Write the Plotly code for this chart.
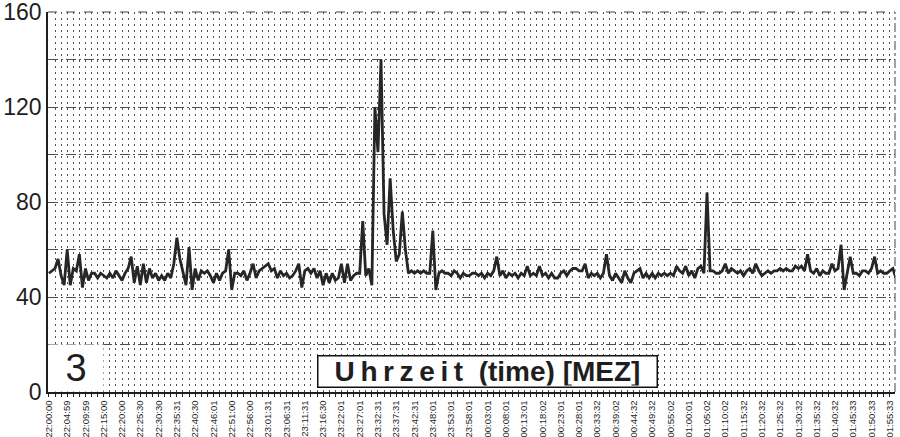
import plotly.graph_objects as go

# Heart-rate-like readings, one sample per category
values = [
    50, 51, 52, 56, 49, 45, 60, 45, 52, 51,
    58, 44, 52, 47, 50, 50, 48, 50, 49, 48,
    50, 48, 51, 49, 47, 50, 52, 57, 46, 53,
    45, 54, 46, 52, 48, 50, 47, 49, 47, 50,
    48, 54, 65, 56, 50, 45, 61, 43, 52, 47,
    51, 50, 51, 49, 46, 50, 47, 50, 51, 60,
    43, 50, 50, 49, 51, 47, 50, 54, 48, 51,
    52, 53, 54, 51, 52, 48, 51, 49, 50, 48,
    49, 51, 54, 44, 51, 52, 50, 52, 48, 51,
    45, 50, 46, 50, 47, 48, 54, 46, 54, 47,
    49, 50, 50, 72, 49, 52, 45, 120, 101, 140,
    75, 62, 90, 68, 55, 58, 76, 60, 50, 51,
    50, 51, 50, 51, 50, 50, 68, 43, 50, 51,
    50, 50, 49, 51, 50, 48, 50, 49, 49, 50,
    50, 49, 50, 48, 50, 49, 51, 57, 49, 51,
    48, 50, 49, 50, 48, 50, 49, 53, 49, 50,
    49, 53, 49, 50, 48, 50, 48, 48, 50, 51,
    49, 51, 52, 52, 51, 51, 54, 48, 50, 49,
    50, 48, 50, 58, 49, 47, 50, 48, 46, 51,
    48, 46, 50, 51, 52, 48, 50, 48, 50, 48,
    50, 49, 50, 49, 50, 49, 53, 51, 50, 53,
    49, 51, 48, 52, 53, 50, 84, 51, 51, 50,
    50, 51, 54, 50, 52, 51, 50, 51, 49, 51,
    52, 50, 54, 51, 49, 50, 51, 50, 51, 51,
    52, 51, 52, 51, 51, 53, 52, 53, 51, 58,
    51, 50, 52, 49, 51, 50, 50, 54, 51, 52,
    62, 43, 51, 57, 50, 50, 49, 51, 51, 50,
    52, 57, 50, 51, 50, 50, 51, 52, 48,
]

tick_labels = [
    "22:00:00", "22:04:59", "22:09:59", "22:15:00", "22:20:00", "22:25:30",
    "22:30:30", "22:35:31", "22:40:30", "22:46:01", "22:51:00", "22:56:00",
    "23:01:31", "23:06:31", "23:11:31", "23:16:30", "23:22:01", "23:27:01",
    "23:32:31", "23:37:31", "23:42:31", "23:48:01", "23:53:01", "23:58:01",
    "00:03:01", "00:08:01", "00:13:01", "00:18:02", "00:23:01", "00:28:01",
    "00:33:32", "00:39:02", "00:44:32", "00:49:32", "00:55:02", "01:00:01",
    "01:05:02", "01:10:02", "01:15:32", "01:20:32", "01:25:32", "01:30:32",
    "01:35:32", "01:40:32", "01:45:33", "01:50:33", "01:55:33",
]
label_step = 6          # samples between two time labels
y_ticks = [0, 40, 80, 120, 160]

x_idx = list(range(len(values)))
tick_pos = [i * label_step for i in range(len(tick_labels))]

FONT = "Arial, Liberation Sans, sans-serif"
INK = "#1e1e1e"
GRID = "#4e4e4e"
TS = "\u2009"  # thin space for the letter-spaced word

title_text = "<b>" + TS.join("Uhrzeit") + "\u00a0 (time) [MEZ]</b>"

fig = go.Figure()
fig.add_trace(go.Scatter(
    x=x_idx, y=values, mode="lines",
    line=dict(color="#262626", width=2.8),
    hoverinfo="skip", showlegend=False,
))

fig.update_layout(
    width=900, height=437,
    margin=dict(l=48, r=5, t=12, b=45),
    paper_bgcolor="white", plot_bgcolor="white",
    font=dict(family=FONT, color=INK),
    xaxis=dict(
        range=[-0.3, 277.7], automargin=False, ticklabeloverflow="allow",
        tickmode="array", tickvals=tick_pos, ticktext=tick_labels,
        tickangle=-90, tickfont=dict(size=9.5, color=INK, family=FONT),
        showgrid=True, gridcolor=GRID, gridwidth=1, griddash="2px,4px",
        ticks="outside", ticklen=3, tickcolor=INK,
        showline=True, linecolor=INK, linewidth=1.5,
        minor=dict(dtick=2, tick0=0, showgrid=True, gridcolor=GRID,
                   gridwidth=1, griddash="2px,4px",
                   ticks="outside", ticklen=3, tickcolor=INK),
        zeroline=False, fixedrange=True,
    ),
    yaxis=dict(
        range=[0, 160], automargin=False, ticklabeloverflow="allow",
        tickmode="array", tickvals=y_ticks,
        tickfont=dict(size=23, color=INK, family=FONT),
        showgrid=True, gridcolor=GRID, gridwidth=1, griddash="10px,3px,2px,3px",
        minor=dict(dtick=20, showgrid=True, gridcolor=GRID, gridwidth=1,
                   griddash="10px,3px,2px,3px"),
        showline=True, linecolor=INK, linewidth=1.5,
        ticks="", zeroline=False, fixedrange=True,
    ),
    shapes=[
        dict(type="line", xref="paper", yref="paper", x0=1, x1=1, y0=0, y1=1,
             line=dict(color="#444444", width=1, dash="dashdot")),
        dict(type="line", xref="paper", yref="paper", x0=0, x1=1, y0=1, y1=1,
             line=dict(color="#444444", width=1, dash="dash")),
    ],
    annotations=[
        dict(x=9, y=10, xref="x", yref="y", text="3", showarrow=False,
             font=dict(size=38, color=INK, family=FONT),
             bgcolor="white", width=52, height=44),
        dict(x=144, y=8.8, xref="x", yref="y", text=title_text,
             showarrow=False, font=dict(size=28, color=INK, family=FONT),
             bgcolor="white", bordercolor="#111111", borderwidth=1.5,
             width=336, height=28),
    ],
)

fig.write_html("out.html", config={"displayModeBar": False},
               post_script="document.body.style.margin='0';")
